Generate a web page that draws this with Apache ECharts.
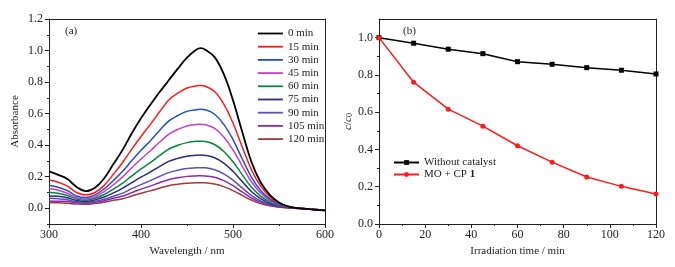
<!DOCTYPE html>
<html><head><meta charset="utf-8">
<script src="https://cdn.jsdelivr.net/npm/echarts@6/dist/echarts.min.js"></script>
<style>html,body{margin:0;padding:0;background:#fff}#c{width:675px;height:267px}</style>
</head><body><div id="c"></div>
<script>
// ---------- Panel (a): UV-vis spectra ----------
const wavelengths = [300,310,320,330,340,350,360,370,380,390,400,410,420,430,440,450,460,465,470,480,490,500,510,520,530,540,550,560,570,580,590,600];
const spectrumLabels = ['0 min','15 min','30 min','45 min','60 min','75 min','90 min','105 min','120 min'];
const abs0   = [.234,.212,.185,.135,.108,.13,.19,.28,.37,.475,.57,.655,.735,.81,.885,.955,1.005,1.015,1.005,.958,.85,.685,.485,.295,.165,.085,.037,.012,.0,-.004,-.01,-.015];
const abs15  = [.179,.165,.14,.1,.084,.1,.145,.215,.29,.375,.455,.53,.61,.685,.73,.762,.776,.778,.774,.74,.66,.54,.39,.245,.14,.072,.032,.01,.001,-.004,-.009,-.013];
const abs30  = [.146,.133,.112,.078,.068,.085,.123,.176,.234,.302,.367,.427,.492,.552,.588,.614,.625,.627,.624,.596,.532,.435,.314,.198,.113,.058,.026,.009,.001,-.004,-.009,-.013];
const abs45  = [.125,.114,.095,.066,.058,.072,.106,.149,.199,.257,.312,.363,.418,.469,.5,.522,.531,.533,.53,.507,.452,.37,.267,.168,.096,.05,.022,.008,.001,-.004,-.009,-.012];
const abs60  = [.100,.095,.081,.059,.051,.063,.087,.121,.159,.205,.249,.289,.333,.374,.399,.416,.424,.425,.423,.404,.36,.295,.213,.134,.077,.04,.017,.006,.001,-.004,-.008,-.012];
const abs75  = [.078,.076,.066,.049,.043,.053,.071,.097,.126,.162,.197,.229,.264,.297,.316,.33,.336,.337,.335,.32,.286,.234,.169,.106,.061,.031,.014,.005,.0,-.004,-.008,-.012];
const abs90  = [.063,.06,.054,.041,.037,.044,.057,.076,.096,.124,.15,.175,.201,.226,.241,.252,.256,.257,.256,.244,.218,.178,.129,.081,.046,.024,.011,.004,.0,-.004,-.008,-.012];
const abs105 = [.046,.044,.043,.034,.032,.038,.048,.063,.077,.099,.121,.14,.162,.181,.193,.202,.205,.206,.205,.196,.175,.143,.103,.065,.037,.019,.008,.003,-.001,-.004,-.008,-.011];
const abs120 = [.036,.034,.031,.027,.025,.03,.038,.05,.06,.078,.095,.11,.127,.143,.152,.159,.162,.162,.161,.154,.137,.112,.081,.051,.029,.015,.007,.002,-.001,-.004,-.008,-.011];
const spectra = [abs0,abs15,abs30,abs45,abs60,abs75,abs90,abs105,abs120];
const spectrumColors = ['#000000','#ff1a1a','#1f50c2','#c83cc8','#00883e','#2b2b78','#5a4fb8','#8a2bb5','#a03838'];
const absTicks = [0,0.2,0.4,0.6,0.8,1.0,1.2];
const absMinor = [-0.1,0.1,0.3,0.5,0.7,0.9,1.1];

// ---------- Panel (b): kinetics ----------
const times = [0,15,30,45,60,75,90,105,120];
const withoutCatalyst = [1.0,.970,.938,.914,.871,.857,.839,.825,.805];
const withCP1 = [1.0,.761,.616,.525,.42,.332,.252,.202,.161];
const ccTicks = [0,0.2,0.4,0.6,0.8,1.0];
const ccMinor = [0.1,0.3,0.5,0.7,0.9];

const FONT = '"Liberation Serif","DejaVu Serif",serif';
const AX = '#222';
const chart = echarts.init(document.getElementById('c'));

function zip(xs, ys){ return xs.map((x,i)=>[x,ys[i]]); }

const series = spectra.map((d,i)=>({
  name: spectrumLabels[i], type:'line', xAxisIndex:0, yAxisIndex:0,
  data: zip(wavelengths,d), smooth:0.4, symbol:'none',
  lineStyle:{width: i===0?1.8:1.5, color: spectrumColors[i]}, itemStyle:{color: spectrumColors[i]}, z: 10-i
}));
series.push({name:'Without catalyst', type:'line', xAxisIndex:2, yAxisIndex:3, data: zip(times,withoutCatalyst),
  symbol:'rect', symbolSize:5, lineStyle:{width:1.5,color:'#000'}, itemStyle:{color:'#000'}});
series.push({name:'MO + CP 1', type:'line', xAxisIndex:2, yAxisIndex:3, data: zip(times,withCP1),
  symbol:'circle', symbolSize:5, lineStyle:{width:1.5,color:'#ff1a1a'}, itemStyle:{color:'#ff1a1a'}});

const nameStyle = {fontFamily:FONT, fontSize:11, color:'#222'};
const labelStyle = {fontFamily:FONT, fontSize:12, color:'#222'};

chart.setOption({
  animation:false,
  grid:[
    {left:49, top:19, width:276, height:205},
    {left:379, top:19, width:277, height:205}
  ],
  xAxis:[
    {gridIndex:0, type:'value', min:300, max:600, interval:100, position:'bottom',
     name:'Wavelength / nm', nameLocation:'middle', nameGap:20, nameTextStyle:nameStyle,
     axisLine:{onZero:false, lineStyle:{color:AX,width:1}}, axisTick:{show:true, inside:false, length:4, lineStyle:{color:AX}},
     minorTick:{show:true, splitNumber:2, length:2, lineStyle:{color:AX}},
     axisLabel:{...labelStyle, margin:5}, splitLine:{show:false}},
    {gridIndex:0, type:'value', min:300, max:600, position:'top',
     axisLine:{onZero:false, lineStyle:{color:AX,width:1}}, axisTick:{show:false}, axisLabel:{show:false}, splitLine:{show:false}},
    {gridIndex:1, type:'value', min:0, max:120, interval:20, position:'bottom',
     name:'Irradiation time / min', nameLocation:'middle', nameGap:20, nameTextStyle:nameStyle,
     axisLine:{onZero:false, lineStyle:{color:AX,width:1}}, axisTick:{show:true, length:4, lineStyle:{color:AX}},
     minorTick:{show:true, splitNumber:2, length:2, lineStyle:{color:AX}},
     axisLabel:{...labelStyle, margin:5}, splitLine:{show:false}},
    {gridIndex:1, type:'value', min:0, max:120, position:'top',
     axisLine:{onZero:false, lineStyle:{color:AX,width:1}}, axisTick:{show:false}, axisLabel:{show:false}, splitLine:{show:false}}
  ],
  yAxis:[
    {gridIndex:0, type:'value', min:-0.1, max:1.2, position:'left',
     name:'Absorbance', nameLocation:'middle', nameGap:28, nameTextStyle:nameStyle,
     axisLine:{onZero:false, lineStyle:{color:AX,width:1}},
     axisTick:{show:true, length:4, customValues:absTicks, lineStyle:{color:AX}},
     axisLabel:{...labelStyle, margin:6, customValues:absTicks, formatter:v=>v.toFixed(1)}, splitLine:{show:false}},
    {gridIndex:0, type:'value', min:-0.1, max:1.2, position:'left',
     axisLine:{show:false}, axisTick:{show:true, length:2, customValues:absMinor, lineStyle:{color:AX}},
     axisLabel:{show:false}, splitLine:{show:false}},
    {gridIndex:0, type:'value', min:-0.1, max:1.2, position:'right',
     axisLine:{onZero:false, lineStyle:{color:AX,width:1}}, axisTick:{show:false}, axisLabel:{show:false}, splitLine:{show:false}},
    {gridIndex:1, type:'value', min:0, max:1.1, position:'left',
     name:'{i|c}/{i|c}{s|0}', nameLocation:'middle', nameGap:24,
     nameTextStyle:{...nameStyle, rich:{i:{fontFamily:FONT,fontSize:11,fontStyle:'italic',color:'#222'}, s:{fontFamily:FONT,fontSize:8,verticalAlign:'bottom',color:'#222',padding:[4,0,0,0]}}},
     axisLine:{onZero:false, lineStyle:{color:AX,width:1}},
     axisTick:{show:true, length:4, customValues:ccTicks, lineStyle:{color:AX}},
     axisLabel:{...labelStyle, margin:6, customValues:ccTicks, formatter:v=>v.toFixed(1)}, splitLine:{show:false}},
    {gridIndex:1, type:'value', min:0, max:1.1, position:'left',
     axisLine:{show:false}, axisTick:{show:true, length:2, customValues:ccMinor, lineStyle:{color:AX}},
     axisLabel:{show:false}, splitLine:{show:false}},
    {gridIndex:1, type:'value', min:0, max:1.1, position:'right',
     axisLine:{onZero:false, lineStyle:{color:AX,width:1}}, axisTick:{show:false}, axisLabel:{show:false}, splitLine:{show:false}}
  ],
  legend:[
    {data:spectrumLabels, orient:'vertical', left:257, top:28, itemWidth:25, itemHeight:12, itemGap:2.2,
     itemStyle:{opacity:0}, lineStyle:{width:1.8},
     textStyle:{fontFamily:FONT, fontSize:11, color:'#222'}, padding:0},
    {data:['Without catalyst','MO + CP 1'], orient:'vertical', left:393, top:157, itemWidth:25, itemHeight:6, itemGap:1,
     textStyle:{fontFamily:FONT, fontSize:11, color:'#222', rich:{b:{fontFamily:FONT,fontSize:11,fontWeight:'bold',color:'#222'}}},
     formatter:n=> n==='MO + CP 1' ? 'MO + CP {b|1}' : n, padding:0}
  ],
  graphic:[
    {type:'text', left:65, top:26, style:{text:'(a)', font:'11px '+FONT, fill:'#222'}},
    {type:'text', left:403, top:26, style:{text:'(b)', font:'11px '+FONT, fill:'#222'}}
  ],
  series: series
});
</script></body></html>
